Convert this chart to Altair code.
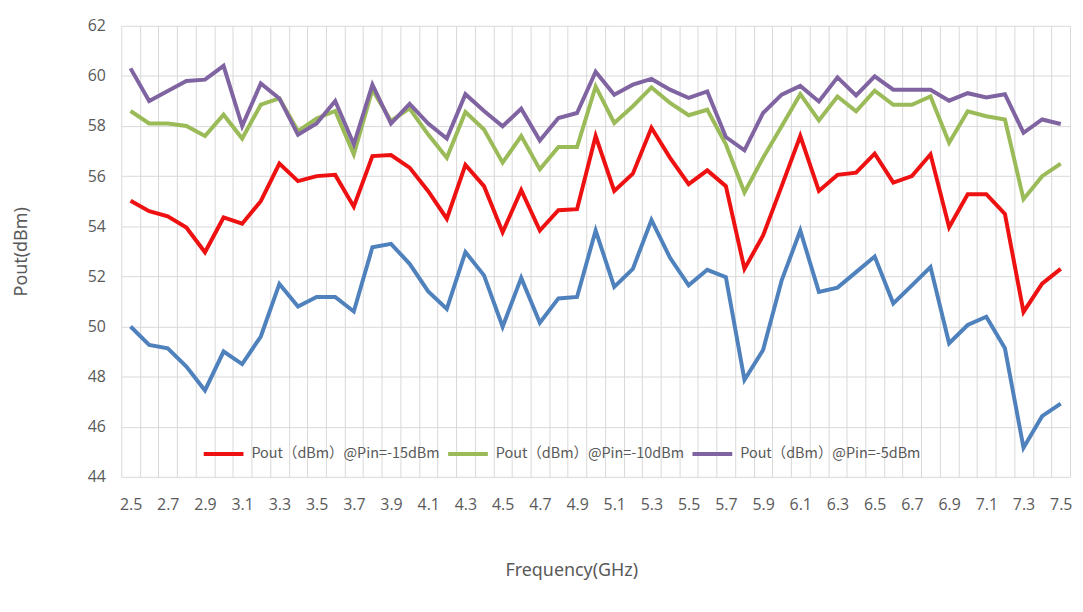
import altair as alt
import pandas as pd

freqs = ["2.5", "2.6", "2.7", "2.8", "2.9", "3.0", "3.1", "3.2", "3.3", "3.4",
         "3.5", "3.6", "3.7", "3.8", "3.9", "4.0", "4.1", "4.2", "4.3", "4.4",
         "4.5", "4.6", "4.7", "4.8", "4.9", "5.0", "5.1", "5.2", "5.3", "5.4",
         "5.5", "5.6", "5.7", "5.8", "5.9", "6.0", "6.1", "6.2", "6.3", "6.4",
         "6.5", "6.6", "6.7", "6.8", "6.9", "7.0", "7.1", "7.2", "7.3", "7.4", "7.5"]

pout_m20 = [50.0, 49.26, 49.13, 48.4, 47.45, 49.0, 48.5, 49.6, 51.7, 50.8,
            51.18, 51.18, 50.6, 53.16, 53.3, 52.5, 51.4, 50.7, 52.97, 52.04,
            49.99, 51.94, 50.15, 51.12, 51.18, 53.83, 51.58, 52.3, 54.25, 52.74,
            51.64, 52.26, 51.97, 47.87, 49.06, 51.84, 53.83, 51.38, 51.55, 52.17,
            52.79, 50.92, 51.64, 52.37, 49.33, 50.06, 50.39, 49.13, 45.16, 46.42, 46.92]

pout_m15 = [55.02, 54.6, 54.4, 53.95, 52.96, 54.35, 54.1, 55.0, 56.5, 55.8,
            56.0, 56.05, 54.78, 56.8, 56.84, 56.34, 55.4, 54.3, 56.45, 55.6,
            53.76, 55.44, 53.83, 54.64, 54.68, 57.6, 55.41, 56.1, 57.93, 56.73,
            55.68, 56.23, 55.6, 52.3, 53.63, 55.6, 57.6, 55.41, 56.05, 56.14,
            56.9, 55.74, 56.0, 56.87, 53.96, 55.28, 55.28, 54.49, 50.58, 51.71, 52.3]

pout_m10 = [58.6, 58.1, 58.1, 58.0, 57.6, 58.45, 57.5, 58.85, 59.1, 57.8,
            58.3, 58.6, 56.87, 59.45, 58.2, 58.7, 57.66, 56.73, 58.56, 57.86,
            56.54, 57.6, 56.27, 57.16, 57.16, 59.58, 58.12, 58.79, 59.54, 58.92,
            58.43, 58.65, 57.27, 55.35, 56.73, 57.99, 59.27, 58.22, 59.18, 58.59,
            59.41, 58.85, 58.85, 59.18, 57.33, 58.59, 58.39, 58.26, 55.08, 56.0, 56.5]

pout_m5 = [60.3, 59.0, 59.4, 59.8, 59.85, 60.4, 58.0, 59.7, 59.1, 57.65,
           58.1, 59.0, 57.27, 59.65, 58.1, 58.88, 58.1, 57.5, 59.27, 58.6,
           57.99, 58.69, 57.42, 58.32, 58.52, 60.17, 59.25, 59.65, 59.88, 59.45,
           59.12, 59.38, 57.56, 57.03, 58.52, 59.25, 59.6, 58.98, 59.94, 59.22,
           59.98, 59.45, 59.45, 59.45, 59.01, 59.31, 59.14, 59.27, 57.73, 58.26, 58.08]

series_names = ["Pout（dBm）@Pin=-20dBm", "Pout（dBm）@Pin=-15dBm",
                "Pout（dBm）@Pin=-10dBm", "Pout（dBm）@Pin=-5dBm"]
series_values = [pout_m20, pout_m15, pout_m10, pout_m5]
series_colors = ["#4F81BD", "#EE1111", "#9BBB59", "#8064A2"]
y_ticks = [44, 46, 48, 50, 52, 54, 56, 58, 60, 62]

rows = []
for name, vals in zip(series_names, series_values):
    for f, v in zip(freqs, vals):
        rows.append({"freq": f, "value": v, "series": name})
df = pd.DataFrame(rows)

grid_color = "#D9D9D9"
text_color = "#595959"

x_enc = alt.X(
    "freq:O", sort=freqs, bandPosition=0.5,
    scale=alt.Scale(type="band", paddingInner=0, paddingOuter=0),
    axis=alt.Axis(
        tickBand="extent", grid=True, gridColor=grid_color, gridWidth=1,
        ticks=False, tickSize=0, domain=False, labelAngle=0, labelOverlap=False,
        labelExpr="(round(toNumber(datum.value)*10) % 2 == 1) ? datum.label : ''",
        labelFont="Open Sans", labelFontSize=16, labelColor=text_color, labelPadding=20,
        title="Frequency(GHz)", titleFont="Noto Sans", titleFontSize=18,
        titleFontWeight="normal", titleColor=text_color,
        titleX=453, titleY=94, titleAlign="center", titleBaseline="middle", titleAngle=0,
    ),
)
y_enc = alt.Y(
    "value:Q",
    scale=alt.Scale(domain=[44, 62], nice=False, zero=False),
    axis=alt.Axis(
        values=y_ticks, grid=True, gridColor=grid_color, gridWidth=1,
        ticks=False, tickSize=0, domain=False,
        labelFont="Open Sans", labelFontSize=16, labelColor=text_color, labelPadding=16,
        title="Pout(dBm)", titleFont="Noto Sans", titleFontSize=18,
        titleFontWeight="normal", titleColor=text_color,
        titleX=-100, titleY=227, titleAlign="center", titleBaseline="middle", titleAngle=-90,
    ),
)
color_enc = alt.Color(
    "series:N",
    scale=alt.Scale(domain=series_names, range=series_colors),
    legend=alt.Legend(
        values=series_names[1:], title=None, orient="none", direction="horizontal",
        legendX=81, legendY=409, symbolType="stroke", symbolSize=1600,
        symbolStrokeWidth=4, labelFont="Noto Sans CJK SC", labelFontSize=14.5,
        labelColor=text_color, labelOffset=6, columnPadding=0, padding=0,
        labelLimit=400,
    ),
)

layers = []
for name in series_names:
    layers.append(
        alt.Chart(df)
        .transform_filter(alt.datum.series == name)
        .mark_line(strokeWidth=4, strokeJoin="miter")
        .encode(x=x_enc, y=y_enc, color=color_enc)
    )

chart = (
    alt.layer(*layers)
    .properties(
        width=955, height=454,
        autosize=alt.AutoSizeParams(type="none"),
        padding={"left": 114, "top": 16, "right": 5, "bottom": 110},
        background="white",
    )
    .configure_view(stroke=None)
)

chart.save("out.html", embed_options={"renderer": "svg", "actions": False})
